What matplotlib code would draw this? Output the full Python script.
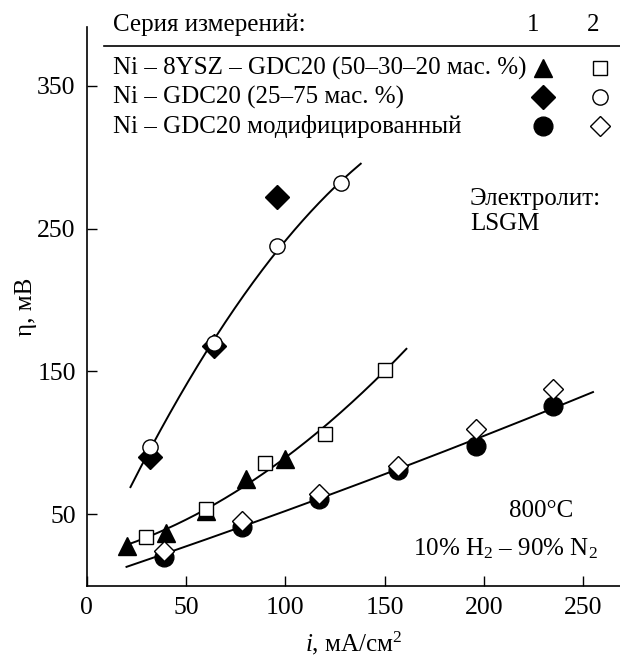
import numpy as np
import matplotlib
matplotlib.use('Agg')
import matplotlib.pyplot as plt
from matplotlib.lines import Line2D

plt.rcParams['font.family'] = ['Liberation Serif', 'DejaVu Serif']
plt.rcParams['mathtext.fontset'] = 'custom'
plt.rcParams['mathtext.rm'] = 'Liberation Serif'
plt.rcParams['mathtext.it'] = 'Liberation Serif:italic'

# --- data ---
# Ni - 8YSZ - GDC20 (50-30-20)
ysz1_x = [20, 40, 60, 80, 100]
ysz1_y = [28, 37, 52, 75, 89]
ysz2_x = [30, 60, 90, 120, 150]
ysz2_y = [34, 54, 86, 106, 151]
# Ni - GDC20 (25-75)
gdc1_x = [32, 64, 96]
gdc1_y = [90, 168, 272]
gdc2_x = [32, 64, 96, 128]
gdc2_y = [97, 170, 238, 282]
# Ni - GDC20 modified
mod1_x = [39, 78, 117, 157, 196, 235]
mod1_y = [20, 41, 61, 81, 98, 126]
mod2_x = [39, 78, 117, 157, 196, 235]
mod2_y = [24, 45, 64, 84, 110, 138]

# fit curves
fitA_x = [22, 32, 48, 64, 80, 96, 112, 128, 138]
fitA_y = [70, 96, 135, 169, 205, 237, 262, 283, 294]
fitB_x = [20, 40, 60, 80, 100, 120, 150, 161]
fitB_y = [29, 39, 53, 71, 89, 112, 151, 165]
fitC_x = [20, 40, 78, 117, 157, 196, 235, 255]
fitC_y = [13, 22, 42, 62, 82, 100, 125, 136]

legend_labels = ['Ni – 8YSZ – GDC20 (50–30–20 мас. %)',
                 'Ni – GDC20 (25–75 мас. %)',
                 'Ni – GDC20 модифицированный']
legend_markers = [('^', 's'), ('D', 'o'), ('o', 'D')]
msize = {'^': 13, 'o': 13.5, 'D': 12}
msize_open = {'s': 10, 'o': 11, 'D': 10}

fig = plt.figure(figsize=(6.2, 6.61), dpi=100)
ax = fig.add_axes([0.14, 0.114, 0.86, 0.845])

for fx, fy in [(fitA_x, fitA_y), (fitB_x, fitB_y), (fitC_x, fitC_y)]:
    c = np.polyfit(fx, fy, 2)
    xs = np.linspace(min(fx), max(fx), 200)
    ax.plot(xs, np.polyval(c, xs), color='black', lw=1.4, zorder=2)

ax.plot(ysz1_x, ysz1_y, '^', color='black', ms=msize['^'], zorder=3, ls='none')
ax.plot(gdc1_x, gdc1_y, 'D', color='black', ms=msize['D'], zorder=3, ls='none')
ax.plot(mod1_x, mod1_y, 'o', color='black', ms=msize['o'], zorder=3, ls='none')
open_kw = dict(mfc='white', mec='black', mew=1.0, ls='none', zorder=4)
ax.plot(ysz2_x, ysz2_y, 's', ms=msize_open['s'], **open_kw)
ax.plot(gdc2_x, gdc2_y, 'o', ms=msize_open['o'], **open_kw)
ax.plot(mod2_x, mod2_y, 'D', ms=msize_open['D'], **open_kw)

ax.set_xlim(0, 268.6)
ax.set_ylim(0, 391)
ax.set_xticks([0, 50, 100, 150, 200, 250])
ax.set_yticks([50, 150, 250, 350])
ax.tick_params(direction='in', length=7, width=1, labelsize=18.5, pad=8)
for s in ['top', 'right']:
    ax.spines[s].set_visible(False)
for s in ['left', 'bottom']:
    ax.spines[s].set_linewidth(1.2)

ax.set_xlabel('$i$, мА/см$^2$', fontsize=18, labelpad=8)
ax.set_ylabel('η, мВ', fontsize=18)
ax.yaxis.set_label_coords(-0.094, 0.5)

ax.text(193, 271, 'Электролит:', fontsize=18, va='center', ha='left')
ax.text(193, 253, 'LSGM', fontsize=18, va='center', ha='left')
ax.text(229, 52, '800°C', fontsize=18, va='center', ha='center')
ax.text(211, 26, '10% H$_2$ – 90% N$_2$', fontsize=18, va='center', ha='center')

# legend drawn by hand
W, H = 620.0, 661.0
fig.text(113 / W, 1 - 25 / H, 'Серия измерений:', fontsize=18, va='center')
fig.text(533 / W, 1 - 25 / H, '1', fontsize=18, va='center', ha='center')
fig.text(593 / W, 1 - 25 / H, '2', fontsize=18, va='center', ha='center')
fig.add_artist(Line2D([104 / W, 620 / W], [1 - 46 / H, 1 - 46 / H],
                      color='black', lw=1.2))
rows_y = [68, 97, 126]
for lab, (m1, m2), ry in zip(legend_labels, legend_markers, rows_y):
    yy = 1 - ry / H
    fig.text(113 / W, yy, lab, fontsize=18, va='center')
    fig.add_artist(Line2D([543 / W], [yy], marker=m1, color='black',
                          ms=msize[m1], ls='none'))
    fig.add_artist(Line2D([600 / W], [yy], marker=m2, mfc='white', mec='black',
                          mew=1.0, ms=msize_open[m2], ls='none'))

fig.savefig('out.png', dpi=100)
